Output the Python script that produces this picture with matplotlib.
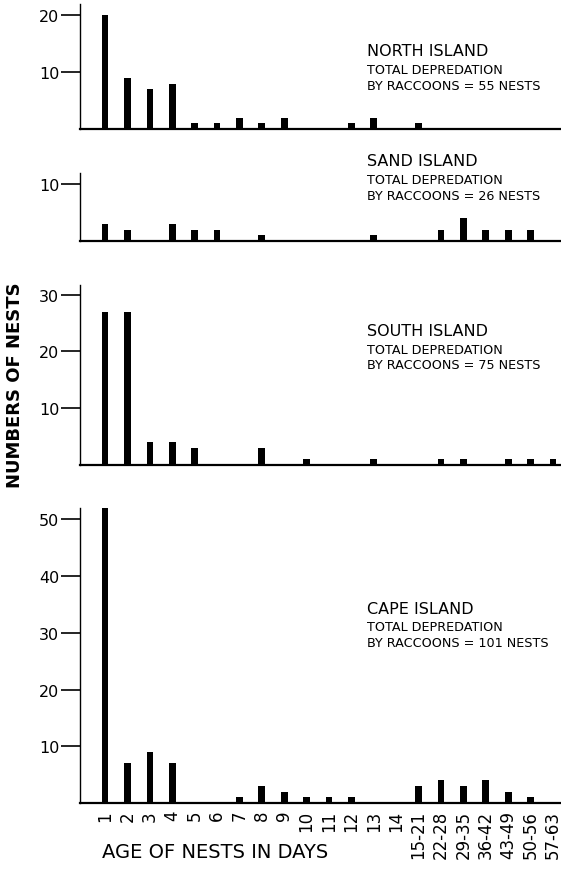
import numpy as np
import matplotlib.pyplot as plt

# age classes (days)
ages = ['1', '2', '3', '4', '5', '6', '7', '8', '9', '10', '11', '12', '13', '14',
        '15-21', '22-28', '29-35', '36-42', '43-49', '50-56', '57-63']

north = [20, 9, 7, 8, 1, 1, 2, 1, 2, 0, 0, 1, 2, 0, 1, 0, 0, 0, 0, 0, 0]
sand = [3, 2, 0, 3, 2, 2, 0, 1, 0, 0, 0, 0, 1, 0, 0, 2, 4, 2, 2, 2, 0]
south = [27, 27, 4, 4, 3, 0, 0, 3, 0, 1, 0, 0, 1, 0, 0, 1, 1, 0, 1, 1, 1]
cape = [52, 7, 9, 7, 0, 0, 1, 3, 2, 1, 1, 1, 0, 0, 3, 4, 3, 4, 2, 1, 0]

names = ['NORTH ISLAND', 'SAND ISLAND', 'SOUTH ISLAND', 'CAPE ISLAND']
totals = [55, 26, 75, 101]
yticks = [[10, 20], [10], [10, 20, 30], [10, 20, 30, 40, 50]]
ylims = [22, 12, 31.7, 52]

W, H = 561, 870
fig = plt.figure(figsize=(W / 100, H / 100), dpi=100)

# axes boxes in pixels: (baseline y, top y)
boxes = [(130, 5), (242, 174), (466, 286), (804, 509)]
# text rows in pixels (title y)
text_y = [52, 162, 332, 610]

x = np.arange(len(ages))
series = [north, sand, south, cape]

for i, (vals, box) in enumerate(zip(series, boxes)):
    base, top = box
    ax = fig.add_axes([80 / W, 1 - base / H, 481 / W, (base - top) / H])
    ax.bar(x, vals, width=0.3, color='black', clip_on=False)
    ax.set_xlim(-1.12, 20.36)
    ax.set_ylim(0, ylims[i])
    ax.spines['top'].set_visible(False)
    ax.spines['right'].set_visible(False)
    ax.spines['left'].set_linewidth(1.0)
    ax.spines['bottom'].set_linewidth(1.6)
    ax.set_yticks(yticks[i])
    ax.tick_params(axis='y', length=14, width=1.2, pad=1, labelsize=11.5)
    if i < 3:
        ax.set_xticks([])
    else:
        ax.set_xticks(x)
        ax.set_xticklabels(ages, rotation=90, fontsize=12)
        ax.tick_params(axis='x', length=0, pad=5)

    ty = text_y[i]
    fig.text(367 / W, 1 - ty / H, names[i], fontsize=11.5, va='center', ha='left')
    fig.text(367 / W, 1 - (ty + 18) / H, 'TOTAL DEPREDATION', fontsize=9.2,
             va='center', ha='left')
    fig.text(367 / W, 1 - (ty + 34) / H, 'BY RACCOONS = %d NESTS' % totals[i],
             fontsize=9.2, va='center', ha='left')

fig.text(15 / W, 1 - 385 / H, 'NUMBERS OF NESTS', rotation=90, fontsize=13,
         fontweight='bold', va='center', ha='center')
fig.text(102 / W, 1 - 853 / H, 'AGE OF NESTS IN DAYS', fontsize=14,
         va='center', ha='left')

fig.savefig('out.png', dpi=100)
